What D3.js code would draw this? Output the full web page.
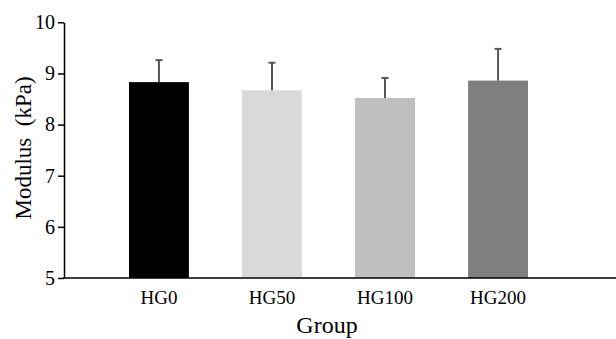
<!DOCTYPE html>
<html>
<head>
<meta charset="utf-8">
<script src="https://cdn.jsdelivr.net/npm/d3@7/dist/d3.min.js"></script>
<style>
  body { margin: 0; background: #fff; }
  svg { display: block; }
  text { font-family: "Liberation Serif", "Times New Roman", serif; fill: #000; }
</style>
</head>
<body>
<div id="chart"></div>
<script>
// chart data
var groups = ["HG0", "HG50", "HG100", "HG200"];
var modulus = [8.83, 8.67, 8.52, 8.86];
var errors = [0.43, 0.54, 0.39, 0.62];
var barColors = ["#000000", "#d9d9d9", "#bfbfbf", "#7f7f7f"];
var yTicks = [5, 6, 7, 8, 9, 10];

var width = 616, height = 339;

var svg = d3.select("#chart").append("svg")
    .attr("width", width)
    .attr("height", height);

var y = d3.scaleLinear().domain([5, 10]).range([278, 22.3]);
var x = d3.scaleBand().domain(groups)
    .range([64, 593])
    .paddingInner(0.47)
    .paddingOuter(0.575);

// bars
svg.selectAll("rect.bar")
    .data(groups)
    .enter().append("rect")
    .attr("class", "bar")
    .attr("x", function (d) { return x(d); })
    .attr("y", function (d, i) { return y(modulus[i]); })
    .attr("width", x.bandwidth())
    .attr("height", function (d, i) { return y(5) - y(modulus[i]); })
    .attr("fill", function (d, i) { return barColors[i]; });

// error bars (upper only)
var err = svg.selectAll("g.err")
    .data(groups)
    .enter().append("g")
    .attr("class", "err")
    .attr("stroke", "#555")
    .attr("stroke-width", 2);
err.append("line")
    .attr("x1", function (d) { return x(d) + x.bandwidth() / 2; })
    .attr("x2", function (d) { return x(d) + x.bandwidth() / 2; })
    .attr("y1", function (d, i) { return y(modulus[i]); })
    .attr("y2", function (d, i) { return y(modulus[i] + errors[i]); });
err.append("line")
    .attr("x1", function (d) { return x(d) + x.bandwidth() / 2 - 3.5; })
    .attr("x2", function (d) { return x(d) + x.bandwidth() / 2 + 3.5; })
    .attr("y1", function (d, i) { return y(modulus[i] + errors[i]); })
    .attr("y2", function (d, i) { return y(modulus[i] + errors[i]); });

// y axis
var yAxis = svg.append("g")
    .attr("transform", "translate(64,0)")
    .call(d3.axisLeft(y).tickValues(yTicks).tickFormat(d3.format("d"))
        .tickSize(6).tickPadding(3).tickSizeOuter(0));
yAxis.select(".domain").attr("stroke", "#000").attr("stroke-width", 1.5);
yAxis.selectAll(".tick line").attr("stroke", "#000").attr("stroke-width", 1.5);
yAxis.selectAll(".tick text")
    .attr("font-size", 20)
    .attr("fill", "#000");

// x axis
var xAxis = svg.append("g")
    .attr("transform", "translate(0,278)")
    .call(d3.axisBottom(x).tickSize(0).tickPadding(13));
xAxis.select(".domain").remove();
xAxis.append("line")
    .attr("x1", 63).attr("x2", 616)
    .attr("y1", 0).attr("y2", 0)
    .attr("stroke", "#000").attr("stroke-width", 1.5);
xAxis.selectAll(".tick text")
    .attr("font-size", 19)
    .attr("fill", "#000");

// axis titles
svg.append("text")
    .attr("x", 327).attr("y", 333)
    .attr("text-anchor", "middle")
    .attr("font-size", 24)
    .text("Group");

svg.append("text")
    .attr("transform", "translate(31,148) rotate(-90)")
    .attr("text-anchor", "middle")
    .attr("font-size", 23)
    .style("white-space", "pre")
    .text("Modulus  (kPa)");
</script>
</body>
</html>
